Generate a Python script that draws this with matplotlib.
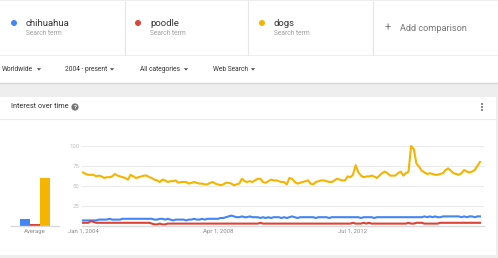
import matplotlib.pyplot as plt
from matplotlib.patches import Rectangle, Circle, Polygon
import pandas as pd

# Search terms and their colours
terms = ['chihuahua', 'poodle', 'dogs']
colors = ['#4285F4', '#DB4437', '#F4B400']
averages = [9, 3, 60]

# Monthly interest, Jan 2004 - Jul 2016
chihuahua = [7, 7, 7, 7, 7, 7, 8, 8, 8, 8, 9, 8,
             8, 8, 8, 9, 9, 9, 9, 9, 9, 9, 9, 9,
             9, 9, 9, 8, 8, 9, 9, 8, 9, 8, 7, 8,
             8, 8, 8, 7, 8, 8, 9, 8, 8, 9, 8, 9,
             9, 9, 9, 9, 10, 10, 11, 12, 13, 12, 11, 11,
             12, 11, 11, 12, 11, 11, 11, 10, 11, 10, 11, 10,
             11, 11, 11, 10, 11, 10, 11, 12, 11, 10, 11, 11,
             11, 11, 11, 11, 10, 11, 11, 11, 11, 10, 11, 11,
             11, 11, 11, 11, 11, 11, 11, 11, 11, 10, 11, 11,
             11, 11, 10, 11, 11, 11, 11, 11, 11, 11, 11, 11,
             11, 11, 11, 11, 11, 11, 11, 11, 11, 12, 11, 12,
             11, 12, 11, 11, 12, 12, 12, 12, 12, 12, 12, 11,
             12, 11, 12, 12, 11, 12, 12]
poodle = [4, 4, 4, 6, 5, 4, 4, 4, 4, 4, 4, 4,
          4, 4, 4, 4, 4, 4, 4, 4, 4, 4, 4, 4,
          4, 4, 3, 2, 2, 3, 2, 2, 3, 3, 3, 3,
          3, 3, 3, 3, 3, 3, 3, 3, 3, 3, 3, 3,
          3, 3, 3, 3, 3, 3, 3, 3, 3, 3, 3, 3,
          3, 3, 3, 3, 3, 3, 3, 4, 3, 3, 3, 3,
          3, 3, 3, 3, 3, 3, 3, 3, 3, 3, 3, 3,
          3, 3, 3, 3, 3, 3, 3, 3, 3, 3, 3, 3,
          3, 3, 3, 3, 3, 3, 4, 3, 3, 3, 4, 3,
          4, 3, 3, 3, 3, 3, 3, 3, 3, 3, 3, 3,
          3, 3, 3, 4, 3, 3, 4, 4, 4, 3, 3, 3,
          3, 3, 3, 4, 4, 4, 4, 4, 4, 4, 4, 4,
          4, 4, 4, 4, 4, 4, 4]
dogs = [67, 65, 64, 64, 64, 62, 63, 62, 60, 61, 61, 62,
        65, 63, 62, 61, 60, 58, 64, 62, 60, 61, 62, 63,
        63, 61, 60, 58, 57, 55, 58, 57, 55, 56, 56, 57,
        54, 55, 55, 55, 53, 54, 55, 54, 53, 53, 52, 52,
        54, 55, 53, 52, 51, 52, 54, 54, 53, 51, 52, 53,
        59, 56, 55, 56, 55, 57, 59, 59, 55, 54, 56, 58,
        57, 57, 56, 55, 55, 52, 60, 59, 55, 53, 54, 55,
        56, 57, 53, 52, 55, 56, 57, 57, 56, 55, 55, 57,
        59, 58, 57, 57, 62, 61, 64, 76, 67, 63, 61, 62,
        62, 63, 62, 60, 63, 66, 68, 66, 63, 63, 63, 66,
        68, 63, 66, 68, 100, 96, 78, 74, 69, 67, 65, 66,
        65, 64, 64, 65, 66, 70, 72, 69, 66, 65, 64, 66,
        70, 68, 67, 68, 70, 75, 80]

dates = pd.date_range('2004-01-01', periods=len(dogs), freq='MS')
tick_dates = pd.to_datetime(['2004-01-01', '2008-04-01', '2012-07-01'])
tick_labels = ['Jan 1, 2004', 'Apr 1, 2008', 'Jul 1, 2012']
filters = ['Worldwide', '2004 - present', 'All categories', 'Web Search']

plt.rcParams['font.family'] = ['Roboto', 'DejaVu Sans']

W, H = 498, 258
fig = plt.figure(figsize=(W / 100, H / 100), dpi=100)
fig.patch.set_facecolor('#EEEEEE')


def px(x, y, w, h):
    # pixel box (top-left origin) -> figure fraction
    return [x / W, 1 - (y + h) / H, w / W, h / H]


# background page drawn in pixel coordinates
bg = fig.add_axes([0, 0, 1, 1])
bg.set_xlim(0, W)
bg.set_ylim(H, 0)
bg.axis('off')

# term cards
bg.add_patch(Rectangle((0, 1), W, 54, color='white', lw=0))
for x in [125, 248, 373]:
    bg.plot([x, x], [1, 55], color='#E6E6E6', lw=0.8)
for i, (t, c) in enumerate(zip(terms, colors)):
    x0 = 14 + i * 124
    bg.add_patch(Circle((x0, 23), 3, color=c, lw=0))
    bg.text(x0 + 12, 23, t, fontsize=6.8, color='#333333', va='center')
    bg.text(x0 + 12, 33.5, 'Search term', fontsize=4.8, color='#9E9E9E', va='center')
bg.text(388, 28, '+', fontsize=8, color='#757575', va='center', ha='center')
bg.text(400, 28.5, 'Add comparison', fontsize=6.6, color='#757575', va='center')

# filter row
bg.add_patch(Rectangle((0, 56), W, 27, color='white', lw=0))
bg.plot([0, W], [83, 83], color='#D6D6D6', lw=1)
for x, ax_, f in zip([2, 65, 140, 213], [39, 112, 186, 253], filters):
    bg.text(x, 69.5, f, fontsize=4.8, color='#333333', va='center')
    bg.add_patch(Polygon([[ax_ - 2.2, 68.2], [ax_ + 2.2, 68.2], [ax_, 70.6]],
                         color='#555555', lw=0))

# chart card
bg.add_patch(Rectangle((0, 97), 496, 158, color='white', lw=0))
bg.plot([0, 496], [118.5, 118.5], color='#EBEBEB', lw=0.8)
bg.text(11, 107, 'Interest over time', fontsize=5.3, color='#333333', va='center')
bg.add_patch(Circle((75, 107), 3.6, color='#757575', lw=0))
bg.text(75, 107.3, '?', fontsize=4.2, color='white', va='center', ha='center',
        fontweight='bold')
for y in [104, 107, 110]:
    bg.add_patch(Rectangle((481, y - 0.9), 1.8, 1.8, color='#888888', lw=0))

# averages bar chart
axb = fig.add_axes(px(11, 146, 48, 80))
axb.patch.set_alpha(0)
axb.bar(range(3), averages, width=1, color=colors)
axb.set_xlim(-1.4, 3.4)
axb.set_ylim(0, 100)
axb.set_xticks([1])
axb.set_xticklabels(['Average'], fontsize=4.3, color='#8A8A8A')
axb.tick_params(length=0, pad=2)
axb.set_yticks([])
for s in ['top', 'right', 'left']:
    axb.spines[s].set_visible(False)
axb.spines['bottom'].set_color('#DADADA')
axb.spines['bottom'].set_linewidth(1)

# interest over time lines
ax = fig.add_axes(px(82, 146, 402, 80))
ax.patch.set_alpha(0)
for series, c in zip([chihuahua, poodle, dogs], colors):
    ax.plot(dates, series, color=c, lw=1.5, clip_on=False, solid_joinstyle='round')
ax.set_xlim(dates[0] - pd.Timedelta(days=12), dates[-1] + pd.Timedelta(days=46))
ax.set_ylim(0, 100)
ax.set_yticks([25, 50, 75, 100])
ax.set_yticklabels(['25', '50', '75', '100'], fontsize=4.3, color='#BDBDBD')
ax.set_xticks(tick_dates)
ax.set_xticklabels(tick_labels, fontsize=4.3, color='#8A8A8A')
ax.tick_params(length=0, pad=2)
ax.grid(axis='y', color='#EBEBEB', lw=0.8)
ax.set_axisbelow(True)
for s in ['top', 'right', 'left']:
    ax.spines[s].set_visible(False)
ax.spines['bottom'].set_color('#DADADA')
ax.spines['bottom'].set_linewidth(1)

fig.savefig('out.png', dpi=100, facecolor=fig.get_facecolor())
